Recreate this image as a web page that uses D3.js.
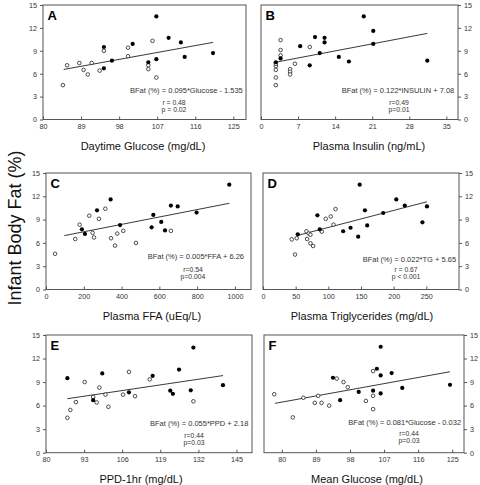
<!DOCTYPE html>
<html><head><meta charset="utf-8">
<script src="https://cdn.jsdelivr.net/npm/d3@7/dist/d3.min.js"></script>
<style>body{margin:0;background:#fff;}svg{display:block;font-family:"Liberation Sans",Arial,sans-serif;}</style>
</head><body><svg id="c" width="480" height="485"></svg>
<script>
// ---------- DATA ----------
const yTicks = [0,3,6,9,12,15];
const panelLetters = ["A","B","C","D","E","F"];
const axisTitles = ["Daytime Glucose (mg/dL)","Plasma Insulin (ng/mL)","Plasma FFA (uEq/L)","Plasma Triglycerides (mg/dL)","PPD-1hr (mg/dL)","Mean Glucose (mg/dL)"];
const equations = ["BFat (%) = 0.095*Glucose - 1.535","BFat (%) = 0.122*INSULIN + 7.08","BFat (%) = 0.005*FFA + 6.26","BFat (%) = 0.022*TG + 5.65","BFat (%) = 0.055*PPD + 2.18","BFat (%) = 0.081*Glucose - 0.032"];
const rTexts = ["r = 0.48","r=0.49","r=0.54","r = 0.67","r=0.44","r=0.44"];
const pTexts = ["p = 0.02","p=0.01","p=0.004","p < 0.001","p=0.03","p=0.03"];
const xTicksA = [80,89,98,107,116,125];
const xTicksB = [0,7,14,21,28,35];
const xTicksC = [0,200,400,600,800,1000];
const xTicksD = [0,50,100,150,200,250];
const xTicksE = [80,93,106,119,132,145];
const xTicksF = [80,89,98,107,116,125];

const openA = [[84.7,4.5],[85.7,7.1],[88.6,7.4],[89.6,6.5],[90.6,5.9],[91.5,7.4],[93.4,6.4],[94.4,9.0],[100.1,9.4],[100.1,8.3],[105.9,10.3],[104.9,7.1],[104.9,6.6],[106.8,5.5]];
const fillA = [[94.4,9.5],[94.4,6.7],[96.3,7.7],[101.2,9.9],[104.9,7.5],[106.8,13.5],[106.8,7.9],[109.7,10.7],[112.6,10.1],[113.5,8.2],[120.2,8.7]];
const lineA = [[84.9,6.56],[120.2,10.1]];

const openB = [[2.8,4.5],[2.8,5.5],[2.8,6.5],[2.8,7.0],[2.8,7.3],[3.7,10.4],[3.7,9.1],[3.7,8.4],[5.5,6.6],[5.5,6.25],[5.5,5.9],[6.4,7.3],[9.2,9.5]];
const fillB = [[2.8,7.5],[3.7,8.0],[7.4,9.6],[9.2,7.1],[10.2,10.8],[11.1,8.7],[12.0,10.7],[12.0,10.1],[14.7,8.2],[16.6,7.6],[19.4,13.5],[21.2,11.6],[21.2,9.9],[31.4,7.7]];
const lineB = [[2.6,7.48],[31.4,11.28]];

const openC = [[48,4.6],[155,6.5],[178,8.35],[229,9.5],[247,7.3],[254,6.7],[280,9.1],[314,10.4],[344,6.6],[365,5.65],[377,7.2],[409,7.55],[476,6.0],[661,7.55]];
const fillC = [[190,7.75],[206,7.15],[270,10.2],[342,11.6],[392,8.3],[559,8.0],[568,9.6],[610,8.7],[630,7.6],[661,10.8],[697,10.7],[797,9.9],[970,13.5]];
const lineC = [[97,6.94],[970,11.1]];

const openD = [[44,6.45],[49,4.5],[51.6,6.6],[66.5,7.5],[67.5,6.5],[70,7.2],[72.6,7.05],[72.6,5.95],[76.7,5.6],[90,7.45],[96,9.1],[103.8,9.4],[107.9,8.35],[111,10.35]];
const fillD = [[53.2,7.1],[83.3,9.55],[86.9,7.75],[122.7,7.5],[134,7.95],[145.7,6.8],[148,13.5],[156,10.2],[159.5,8.25],[184,9.85],[204,11.6],[217,10.8],[244,8.65],[251,10.7]];
const lineD = [[53,6.96],[251,11.3]];

const openE = [[87.3,4.45],[88.3,5.45],[90.2,6.45],[93.2,9.0],[96.1,7.1],[97.3,6.4],[98.2,8.3],[100.3,7.4],[101.3,5.85],[106.3,7.4],[108.3,10.3],[110.4,7.2],[115.4,9.35],[130.3,6.55]];
const fillE = [[87.3,9.5],[96.1,6.7],[99.2,10.1],[108.3,7.7],[116.4,9.8],[122.4,7.9],[123.3,7.5],[125.4,10.6],[129.4,7.95],[130.3,13.4],[140.4,8.6]];
const lineE = [[87.3,6.88],[140.4,9.83]];

const openF = [[78,7.45],[82.9,4.5],[85.7,7.0],[88.7,6.35],[89.6,7.25],[90.5,6.35],[92.5,6.0],[94.5,9.45],[96.3,9.0],[97.4,8.35],[102.2,6.6],[104.1,10.4],[104.1,7.25],[104.1,5.55]];
const fillF = [[93.5,9.55],[95.4,6.7],[100.3,7.75],[104.1,7.9],[105.1,10.7],[106.1,13.5],[106.1,9.85],[106.1,7.55],[109,10.15],[111.8,8.25],[124.4,8.65]];
const lineF = [[78.2,6.29],[124.4,10.32]];

// ---------- LAYOUT ----------
const layout = [
  {L:43, R:246, T:5,   B:119.5, dom:[80,128],   side:"left",  titleX:143, eqX:130,   eqY:90.7,  rpX:174, rY:102.2, pY:109.2},
  {L:261,R:458, T:5,   B:119.5, dom:[0,37.2],   side:"right", titleX:369, eqX:341.7, eqY:90.7,  rpX:399, rY:102.8, pY:109.8},
  {L:46, R:251, T:173, B:289.5, dom:[0,1085],   side:"left",  titleX:152, eqX:147.7, eqY:256,   rpX:193, rY:269.8, pY:276.8},
  {L:263,R:459, T:173, B:289.5, dom:[0,300],    side:"right", titleX:362, eqX:362.7, eqY:259,   rpX:406, rY:269.3, pY:276.3},
  {L:46, R:252, T:335, B:452.7, dom:[80,150.3], side:"left",  titleX:141, eqX:150,   eqY:423.3, rpX:194, rY:435.2, pY:442.2},
  {L:264,R:464, T:335, B:452.7, dom:[75.3,128.1],side:"right",titleX:367, eqX:348.3, eqY:422.3, rpX:409, rY:433.8, pY:440.8}
];
const xTicksAll = [xTicksA,xTicksB,xTicksC,xTicksD,xTicksE,xTicksF];
const opens = [openA,openB,openC,openD,openE,openF];
const fills = [fillA,fillB,fillC,fillD,fillE,fillF];
const lines = [lineA,lineB,lineC,lineD,lineE,lineF];

const svg = d3.select("#c");
const axisCol = "#555", textCol = "#333";
const fs = 7.2, eqFs = 7.5, rpFs = 6.8;

layout.forEach((p,i)=>{
  const x = d3.scaleLinear().domain(p.dom).range([p.L,p.R]);
  const y = d3.scaleLinear().domain([0,15]).range([p.B,p.T]);
  const g = svg.append("g");
  g.append("rect").attr("x",p.L).attr("y",p.T).attr("width",p.R-p.L).attr("height",p.B-p.T)
    .attr("fill","none").attr("stroke",axisCol).attr("stroke-width",1);
  const xa = g.append("g").attr("transform",`translate(0,${p.B})`)
    .call(d3.axisBottom(x).tickValues(xTicksAll[i]).tickSize(-3).tickPadding(4).tickFormat(d3.format("d")));
  xa.select(".domain").remove();
  xa.selectAll("line").attr("stroke",axisCol);
  xa.selectAll("text").attr("font-size",fs).attr("fill",textCol).attr("font-family","Liberation Sans, Arial");
  const ya = g.append("g").attr("transform",`translate(${p.side==="left"?p.L:p.R},0)`)
    .call((p.side==="left"?d3.axisLeft(y):d3.axisRight(y)).tickValues(yTicks).tickSize(3).tickPadding(3));
  ya.select(".domain").remove();
  ya.selectAll("line").attr("stroke",axisCol);
  ya.selectAll("text").attr("font-size",fs).attr("fill",textCol).attr("font-family","Liberation Sans, Arial");
  g.append("line").attr("x1",x(lines[i][0][0])).attr("y1",y(lines[i][0][1]))
    .attr("x2",x(lines[i][1][0])).attr("y2",y(lines[i][1][1])).attr("stroke","#222").attr("stroke-width",0.9);
  g.selectAll(".o").data(opens[i]).join("circle").attr("cx",d=>x(d[0])).attr("cy",d=>y(d[1])).attr("r",1.8)
    .attr("fill","#fff").attr("stroke","#222").attr("stroke-width",0.8);
  g.selectAll(".f").data(fills[i]).join("circle").attr("cx",d=>x(d[0])).attr("cy",d=>y(d[1])).attr("r",2.1)
    .attr("fill","#000");
  g.append("text").attr("x",p.L+4.5).attr("y",p.T+15).text(panelLetters[i])
    .attr("font-size",13).attr("font-weight","bold").attr("fill","#000");
  g.append("text").attr("x",p.eqX).attr("y",p.eqY+2.7).text(equations[i]).attr("font-size",eqFs).attr("fill",textCol);
  g.append("text").attr("x",p.rpX).attr("y",p.rY+2.4).text(rTexts[i]).attr("font-size",rpFs).attr("fill",textCol).attr("text-anchor","middle");
  g.append("text").attr("x",p.rpX).attr("y",p.pY+2.4).text(pTexts[i]).attr("font-size",rpFs).attr("fill",textCol).attr("text-anchor","middle");
  g.append("text").attr("x",p.titleX).attr("y",p.B+30).text(axisTitles[i]).attr("font-size",11)
    .attr("fill","#111").attr("text-anchor","middle");
});

svg.append("text").attr("transform","translate(21,228) rotate(-90)").attr("text-anchor","middle")
  .attr("font-size",18).attr("fill","#111").text("Infant Body Fat (%)");
</script></body></html>
